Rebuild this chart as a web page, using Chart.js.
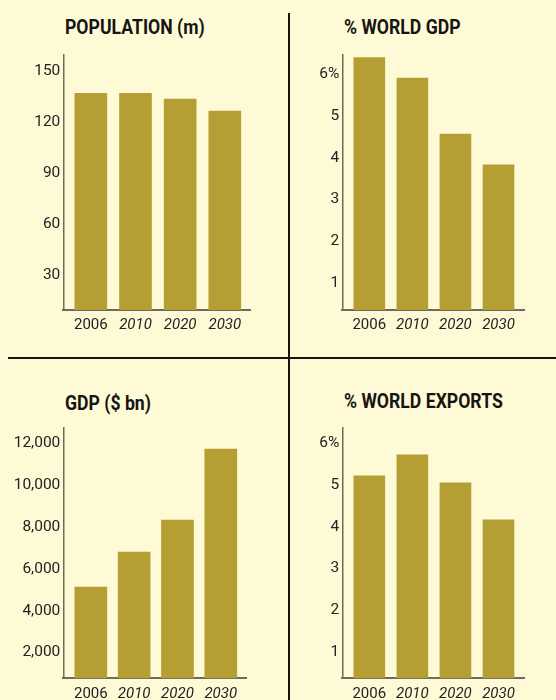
<!DOCTYPE html>
<html lang="en">
<head>
    <meta charset="UTF-8">
    <title>Japan: population, GDP and world shares</title>
    <script src="https://cdn.jsdelivr.net/npm/chart.js"></script>
    <style>
        body { margin: 0; background: #fffad6; }
        #page { position: relative; width: 556px; height: 700px; overflow: hidden; background: #fffad6; }
        canvas { position: absolute; }
        .title { position: absolute; font-family: Roboto, 'Liberation Sans', sans-serif; font-weight: bold; font-size: 21px; line-height: 21px; color: #151515; white-space: nowrap; transform: scaleX(0.84); transform-origin: 0 0; }
        .rule { position: absolute; background: #151515; }
    </style>
</head>
<body>
<div id="page">
    <div class="rule" style="left:288px; top:13px; width:2px; height:687px;"></div>
    <div class="rule" style="left:8px; top:357px; width:548px; height:2px;"></div>

    <div class="title" style="left:65px; top:17px;">POPULATION (m)</div>
    <div class="title" style="left:344px; top:17px;">% WORLD GDP</div>
    <div class="title" style="left:65px; top:393px;">GDP ($ bn)</div>
    <div class="title" style="left:344px; top:391px;">% WORLD EXPORTS</div>

    <canvas id="pop" width="280" height="345" style="left:0; top:0;"></canvas>
    <canvas id="gdpShare" width="266" height="345" style="left:290px; top:0;"></canvas>
    <canvas id="gdp" width="280" height="340" style="left:0; top:360px;"></canvas>
    <canvas id="exports" width="266" height="340" style="left:290px; top:360px;"></canvas>
</div>

<script>
    // data
    const years = ['2006', '2010', '2020', '2030'];
    const population = [127.5, 127.5, 124, 117];
    const worldGdpShare = [6.04, 5.55, 4.21, 3.47];
    const gdpBn = [4365, 6040, 7570, 10960];
    const worldExportShare = [4.84, 5.34, 4.67, 3.79];

    const popTicks = [30, 60, 90, 120, 150];
    const pctTicks = [1, 2, 3, 4, 5, 6];
    const gdpTicks = [2000, 4000, 6000, 8000, 10000, 12000];

    const FONT = "Roboto, 'Liberation Sans', sans-serif";
    const BAR = '#b59f34';
    const AXIS = '#6e6b5e';
    const INK = '#222222';

    function makePanel(id, values, yTicks, yMax, fmt, g) {
        new Chart(document.getElementById(id), {
            type: 'bar',
            data: {
                datasets: [{
                    data: values.map((v, i) => ({ x: i, y: v })),
                    backgroundColor: BAR,
                    borderWidth: 0,
                    barThickness: g.bw
                }]
            },
            options: {
                responsive: false,
                animation: false,
                devicePixelRatio: 1,
                layout: { padding: { left: 0, top: g.top, right: g.right, bottom: g.bottom } },
                plugins: { legend: { display: false }, tooltip: { enabled: false }, title: { display: false } },
                scales: {
                    x: {
                        type: 'linear',
                        offset: false,
                        min: g.xmin,
                        max: g.xmax,
                        grid: { display: false, drawTicks: false, offset: false },
                        border: { display: true, color: AXIS, width: 2 },
                        afterBuildTicks: (s) => { s.ticks = years.map((y, i) => ({ value: i })); },
                        afterFit: (s) => { s.height = g.xh; },
                        ticks: {
                            padding: g.xpad,
                            color: INK,
                            autoSkip: false,
                            maxRotation: 0,
                            callback: (v) => years[v],
                            font: (ctx) => ({ family: FONT, size: 15, style: ctx.index === 0 ? 'normal' : 'italic' })
                        }
                    },
                    y: {
                        min: 0,
                        max: yMax,
                        grid: { display: false, drawTicks: false },
                        border: { display: true, color: AXIS, width: 1.5 },
                        afterBuildTicks: (s) => { s.ticks = yTicks.map(v => ({ value: v })); },
                        afterFit: (s) => { s.width = g.yw; },
                        ticks: {
                            padding: 3,
                            labelOffset: g.lo,
                            color: INK,
                            autoSkip: false,
                            callback: fmt,
                            font: { family: FONT, size: 15.5 }
                        }
                    }
                }
            }
        });
    }

    const plain = (v) => String(v);
    const pct = (v) => v === 6 ? '6%' : String(v);
    const thousands = (v) => v.toLocaleString('en-US');

    makePanel('pop', population, popTicks, 150, plain,
        { top: 55, right: 30, bottom: 5, xh: 30, yw: 63.3, xmin: -0.616, xmax: 3.564, bw: 32, xpad: 6, lo: 16 });
    makePanel('gdpShare', worldGdpShare, pctTicks, 6.1, pct,
        { top: 55, right: 31.3, bottom: 5, xh: 30, yw: 52.3, xmin: -0.627, xmax: 3.608, bw: 31, xpad: 6, lo: 15 });
    makePanel('gdp', gdpBn, gdpTicks, 12000, thousands,
        { top: 67.3, right: 33.3, bottom: 0, xh: 21.7, yw: 63.3, xmin: -0.635, xmax: 3.598, bw: 32, xpad: 7, lo: 16 });
    makePanel('exports', worldExportShare, pctTicks, 6, pct,
        { top: 67.3, right: 31.3, bottom: 0, xh: 21.7, yw: 52.3, xmin: -0.627, xmax: 3.608, bw: 31, xpad: 7, lo: 15.8 });
</script>
</body>
</html>
